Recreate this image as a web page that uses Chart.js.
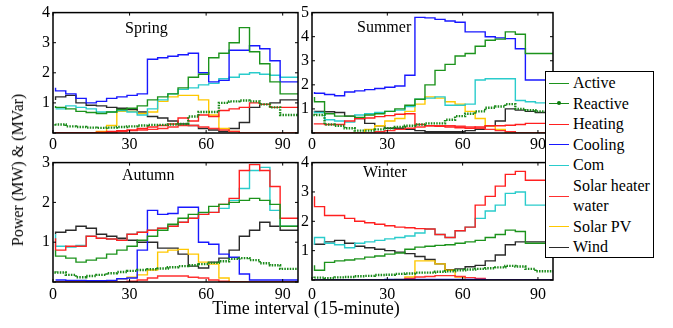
<!DOCTYPE html>
<html>
<head>
<meta charset="utf-8">
<title>Seasonal power profiles</title>
<script src="https://cdn.jsdelivr.net/npm/chart.js@4.4.0/dist/chart.umd.min.js"></script>
<style>
  body { margin: 0; background: #fff; }
  #fig { position: relative; width: 673px; height: 328px; overflow: hidden;
         font-family: "Liberation Serif", "Times New Roman", serif; color: #000; }
  #fig canvas { position: absolute; }
  .texto { position: absolute; font-size: 16px; line-height: 18px; white-space: nowrap; }
  #titulo-y { left: 18px; top: 170px; transform: translate(-50%, -50%) rotate(-90deg); }
  #titulo-x { left: 306px; top: 308px; transform: translate(-50%, -50%); font-size: 18px; }
  #leyenda { position: absolute; left: 545px; top: 71px; width: 107px; height: 184px;
             border: 1px solid #000; background: #fff; z-index: 5; font-size: 16px; padding-top: 1px; box-sizing: content-box; }
  .fila { display: flex; align-items: center; height: 20.5px; line-height: 20.5px; white-space: nowrap; }
  .fila.doble { height: 41px; line-height: 20px; }
  .muestra { position: relative; display: block; flex: 0 0 20px; height: 0; border-top: 1.5px solid; margin: 0 4px 0 3px; }
  .muestra.punto::after { content: ""; position: absolute; left: 8px; top: -2.8px; width: 4px; height: 4px;
                          background: #0a7a0a; border-radius: 2px; }
</style>
</head>
<body>
<div id="fig">
  <canvas id="c-spring" width="300" height="152" style="left:0;top:0"></canvas>
  <canvas id="c-summer" width="265" height="152" style="left:290px;top:0"></canvas>
  <canvas id="c-autumn" width="300" height="152" style="left:0;top:150px"></canvas>
  <canvas id="c-winter" width="265" height="152" style="left:290px;top:150px"></canvas>

  <div class="texto" style="left:125px;top:19px">Spring</div>
  <div class="texto" style="left:357px;top:18px">Summer</div>
  <div class="texto" style="left:122px;top:166px">Autumn</div>
  <div class="texto" style="left:363px;top:163px">Winter</div>

  <div class="texto" id="titulo-y">Power (MW) &amp; (MVar)</div>
  <div class="texto" id="titulo-x">Time interval (15-minute)</div>

  <div id="leyenda"></div>
</div>
<script>
(function () {
    "use strict";

    // Hourly steps: each value holds for four 15-minute intervals
    var HORA_INICIO = [1, 5, 9, 13, 17, 21, 25, 29, 33, 37, 41, 45, 49, 53, 57, 61, 65, 69, 73, 77, 81, 85, 89, 93];
    var FIN_DIA = 96;
    var X_TICKS = [0, 30, 60, 90];
    var SERIES = ["Active", "Reactive", "Heating", "Cooling", "Com", "Solar heater water", "Solar PV", "Wind"];

    var springActive   = [0.9, 0.85, 0.8, 0.72, 0.68, 0.65, 0.7, 0.78, 0.82, 0.9, 1.1, 1.2, 1.3, 1.5, 1.85, 1.95, 2.5, 2.65, 3.0, 3.5, 2.7, 2.3, 1.7, 1.3];
    var springReactive = [0.3, 0.28, 0.22, 0.2, 0.18, 0.17, 0.18, 0.2, 0.22, 0.25, 0.27, 0.27, 0.28, 0.3, 0.55, 0.7, 0.7, 1.0, 1.05, 1.08, 1.05, 0.95, 0.85, 0.6];
    var springHeating  = [0, 0, 0, 0, 0, 0.03, 0.05, 0.08, 0.1, 0.15, 0.2, 0.25, 0.3, 0.5, 0.4, 0.6, 0.55, 0.75, 0.8, 0.85, 1.0, 0.95, 0.85, 0.85];
    var springCooling  = [1.5, 1.4, 1.3, 1.15, 1.0, 1.05, 1.15, 1.2, 1.25, 1.3, 2.45, 2.5, 2.55, 2.6, 2.65, 2.0, 1.7, 1.75, 2.75, 2.75, 2.9, 2.8, 2.4, 1.7];
    var springCom      = [0.8, 0.8, 0.9, 0.85, 0.8, 0.7, 0.7, 0.75, 0.7, 0.6, 0.8, 1.1, 1.3, 1.45, 1.5, 1.6, 1.65, 1.8, 1.85, 1.95, 2.0, 1.95, 1.92, 1.85];
    var springShw      = [0, 0, 0, 0, 0, 0, 0, 0.05, 0.08, 0.1, 0.12, 0.15, 0.2, 0.25, 0.25, 0.2, 0.15, 0.1, 0.05, 0, 0, 0, 0, 0];
    var springPv       = [0, 0, 0, 0, 0, 0.05, 0.25, 0.72, 0.72, 0.65, 0.7, 1.05, 1.2, 1.25, 1.25, 1.1, 0.6, 0.15, 0.05, 0, 0, 0, 0, 0];
    var springWind     = [1.1, 1.2, 1.25, 1.0, 0.92, 0.9, 0.85, 0.82, 0.78, 0.7, 0.55, 0.5, 0.4, 0.3, 0.25, 0.15, 0.1, 0.05, 0.15, 0.35, 0.85, 0.95, 1.0, 1.1];

    var summerActive   = [1.5, 1.3, 0.8, 0.7, 0.7, 0.65, 0.75, 0.8, 0.9, 1.0, 1.15, 1.4, 2.0, 2.6, 2.85, 3.2, 3.3, 3.6, 3.85, 3.9, 4.2, 4.1, 3.3, 3.3];
    var summerReactive = [0.8, 0.75, 0.35, 0.3, 0.2, 0.1, 0.1, 0.15, 0.2, 0.25, 0.3, 0.35, 0.4, 0.4, 0.55, 0.7, 0.8, 0.9, 1.05, 1.1, 1.2, 1.0, 0.95, 0.9];
    var summerHeating  = [0.4, 0.38, 0.35, 0.35, 0.5, 0.6, 0.62, 0.68, 0.72, 0.78, 0.8, 0.35, 0.3, 0.28, 0.25, 0.22, 0.2, 0.25, 0.3, 0.3, 0.32, 0.35, 0.4, 0.4];
    var summerCooling  = [1.7, 1.65, 1.6, 1.55, 1.7, 1.75, 1.8, 1.85, 1.9, 1.95, 2.4, 4.8, 4.78, 4.72, 4.65, 4.6, 4.2, 4.2, 4.0, 3.95, 3.92, 3.5, 2.2, 2.2];
    var summerCom      = [0.9, 0.85, 0.55, 0.5, 0.45, 0.75, 0.8, 0.85, 0.9, 0.95, 1.1, 1.4, 1.45, 1.5, 1.15, 1.15, 1.2, 2.2, 2.25, 2.25, 2.25, 1.35, 1.3, 1.25];
    var summerShw      = [0, 0, 0, 0, 0, 0, 0, 0.05, 0.1, 0.15, 0.2, 0.25, 0.3, 0.3, 0.3, 0.28, 0.25, 0.2, 0.15, 0.1, 0.05, 0, 0, 0];
    var summerPv       = [0, 0, 0, 0, 0, 0, 0.15, 0.3, 0.5, 0.6, 0.9, 1.2, 1.5, 1.45, 1.3, 1.2, 0.9, 0.6, 0.3, 0.15, 0, 0, 0, 0];
    var summerWind     = [0.85, 0.9, 0.88, 0.85, 0.7, 0.6, 0.4, 0.3, 0.2, 0.2, 0.15, 0.1, 0.05, 0.05, 0.05, 0.05, 0.1, 0.15, 0.3, 0.5, 1.0, 0.95, 0.9, 0.85];

    var autumnActive   = [0.8, 0.65, 0.6, 0.5, 0.55, 0.6, 0.7, 0.8, 0.9, 1.05, 1.15, 1.3, 1.45, 1.6, 1.7, 1.75, 1.9, 1.95, 2.0, 2.05, 2.1, 2.05, 1.95, 1.4];
    var autumnReactive = [0.27, 0.24, 0.18, 0.12, 0.15, 0.18, 0.22, 0.25, 0.28, 0.3, 0.32, 0.34, 0.37, 0.4, 0.42, 0.45, 0.48, 0.52, 0.58, 0.6, 0.55, 0.47, 0.42, 0.33];
    var autumnHeating  = [1.1, 0.8, 0.9, 0.9, 1.15, 1.1, 1.08, 1.05, 1.2, 1.25, 1.3, 1.35, 1.4, 1.5, 1.6, 1.7, 1.75, 1.95, 2.1, 2.8, 2.95, 2.8, 2.4, 1.6];
    var autumnCooling  = [0.05, 0.05, 0.04, 0.04, 0.03, 0.03, 0.04, 0.08, 0.1, 0.8, 1.8, 1.7, 1.72, 1.88, 1.88, 1.0, 0.95, 0.7, 0.62, 0.2, 0.05, 0.05, 0.05, 0.05];
    var autumnCom      = [1.2, 0.9, 0.88, 0.92, 1.15, 1.1, 1.08, 1.05, 1.2, 1.25, 1.3, 1.35, 1.4, 1.5, 1.6, 1.7, 1.75, 1.85, 2.05, 2.35, 2.8, 2.88, 1.8, 1.4];
    var autumnShw      = [0, 0, 0, 0, 0, 0, 0, 0, 0.02, 0.05, 0.1, 0.15, 0.15, 0.15, 0.12, 0.1, 0.05, 0.02, 0, 0, 0, 0, 0, 0];
    var autumnPv       = [0, 0, 0, 0, 0, 0, 0.03, 0.08, 0.12, 0.18, 0.3, 0.75, 0.8, 0.82, 0.7, 0.5, 0.45, 0.1, 0, 0, 0, 0, 0, 0];
    var autumnWind     = [1.2, 1.25, 1.3, 1.4, 1.35, 1.2, 1.15, 1.1, 1.05, 1.0, 1.0, 0.85, 0.85, 0.7, 0.4, 0.35, 0.5, 0.6, 0.8, 1.15, 1.3, 1.5, 1.4, 1.3];

    var winterActive   = [0.5, 0.33, 0.6, 0.65, 0.68, 0.72, 0.78, 0.82, 0.88, 0.92, 1.05, 1.12, 1.15, 1.18, 1.2, 1.25, 1.3, 1.35, 1.45, 1.55, 1.7, 1.65, 1.25, 1.25];
    var winterReactive = [0.07, 0.08, 0.06, 0.09, 0.1, 0.13, 0.14, 0.17, 0.18, 0.21, 0.22, 0.25, 0.25, 0.28, 0.3, 0.33, 0.36, 0.38, 0.4, 0.43, 0.48, 0.46, 0.38, 0.3];
    var winterHeating  = [2.85, 2.5, 2.2, 2.2, 2.1, 2.0, 1.95, 1.9, 1.85, 1.8, 1.78, 1.75, 1.74, 1.55, 1.45, 1.68, 1.8, 2.55, 2.85, 3.2, 3.6, 3.7, 3.4, 3.4];
    var winterCooling  = [0, 0, 0, 0, 0, 0, 0, 0, 0.02, 0.02, 0.02, 0.02, 0.02, 0.02, 0.02, 0.02, 0.02, 0.02, 0, 0, 0, 0, 0, 0];
    var winterCom      = [1.2, 1.45, 1.25, 1.2, 1.1, 1.25, 1.3, 1.35, 1.4, 1.45, 1.5, 1.6, 1.74, 1.55, 1.45, 1.68, 1.8, 2.1, 2.35, 2.55, 2.95, 3.0, 2.55, 2.55];
    var winterShw      = [0, 0, 0, 0, 0, 0, 0, 0, 0, 0, 0.05, 0.1, 0.12, 0.15, 0.15, 0.12, 0.08, 0.05, 0, 0, 0, 0, 0, 0];
    var winterPv       = [0, 0, 0, 0, 0, 0, 0, 0, 0, 0.02, 0.1, 0.65, 0.65, 0.55, 0.33, 0.1, 0, 0, 0, 0, 0, 0, 0, 0];
    var winterWind     = [1.2, 1.22, 1.3, 1.35, 1.25, 1.15, 1.1, 1.05, 1.0, 0.95, 0.9, 0.8, 0.7, 0.55, 0.35, 0.38, 0.45, 0.5, 0.65, 0.85, 1.2, 1.3, 1.3, 1.3];

    var FUENTE = "'Liberation Serif', 'Times New Roman', serif";

    var ESTILOS = [
        { color: "#1c931c", ancho: 1.4 },
        { color: "#1a8a1a", ancho: 2.4, guiones: [1.5, 1.2] },
        { color: "#ff2020", ancho: 1.4 },
        { color: "#1818ff", ancho: 1.4 },
        { color: "#2acccc", ancho: 1.4 },
        { color: "#ff3030", ancho: 1.4 },
        { color: "#ffc800", ancho: 1.4 },
        { color: "#2a2a2a", ancho: 1.4 }
    ];

    function puntos(valores) {
        var p = HORA_INICIO.map(function (x, i) { return { x: x, y: valores[i] }; });
        p.push({ x: FIN_DIA, y: valores[valores.length - 1] });
        return p;
    }

    /** Box around the plot area plus MATLAB-like inward ticks. */
    var marco = {
        id: "marco",
        afterDatasetsDraw: function (chart) {
            var a = chart.chartArea, ctx = chart.ctx;
            var sx = chart.scales.x, sy = chart.scales.y;
            ctx.save();
            ctx.strokeStyle = "#000";
            ctx.lineWidth = 1.5;
            ctx.strokeRect(a.left, a.top, a.right - a.left, a.bottom - a.top);
            ctx.lineWidth = 1;
            ctx.beginPath();
            sx.ticks.forEach(function (t) {
                var px = sx.getPixelForValue(t.value);
                ctx.moveTo(px, a.bottom); ctx.lineTo(px, a.bottom - 3);
                ctx.moveTo(px, a.top); ctx.lineTo(px, a.top + 3);
            });
            sy.ticks.forEach(function (t) {
                var py = sy.getPixelForValue(t.value);
                ctx.moveTo(a.left, py); ctx.lineTo(a.left + 3, py);
                ctx.moveTo(a.right, py); ctx.lineTo(a.right - 3, py);
            });
            ctx.stroke();
            ctx.restore();
        }
    };

    function crearPanel(idCanvas, series, yMax, caja) {
        var canvas = document.getElementById(idCanvas);
        var datasets = series.map(function (valores, i) {
            var e = ESTILOS[i];
            return {
                label: SERIES[i],
                data: puntos(valores),
                stepped: "after",
                borderColor: e.color,
                borderWidth: e.ancho,
                borderDash: e.guiones || [],
                pointRadius: 0,
                fill: false
            };
        });
        var fuenteTicks = { family: FUENTE, size: 16 };
        new Chart(canvas.getContext("2d"), {
            type: "line",
            data: { datasets: datasets },
            options: {
                responsive: false,
                animation: false,
                events: [],
                layout: { padding: { top: caja.arriba, right: caja.derecha, left: 0, bottom: 0 } },
                plugins: { legend: { display: false }, tooltip: { enabled: false } },
                scales: {
                    x: {
                        type: "linear", min: 0, max: FIN_DIA,
                        afterBuildTicks: function (s) { s.ticks = X_TICKS.map(function (v) { return { value: v }; }); },
                        afterFit: function (s) { s.height = caja.altoX; },
                        grid: { display: false, drawTicks: false },
                        border: { display: false },
                        ticks: { font: fuenteTicks, color: "#000", padding: caja.padX, maxRotation: 0, autoSkip: false }
                    },
                    y: {
                        min: 0, max: yMax,
                        afterBuildTicks: function (s) {
                            var t = [];
                            for (var v = 0; v <= yMax; v++) { t.push({ value: v }); }
                            s.ticks = t;
                        },
                        afterFit: function (s) { s.width = caja.anchoY; },
                        grid: { display: false, drawTicks: false },
                        border: { display: false },
                        ticks: {
                            font: fuenteTicks, color: "#000", padding: 3,
                            callback: function (v) { return v === 0 ? "" : v; }
                        }
                    }
                }
            },
            plugins: [marco]
        });
    }

    function crearLeyenda() {
        var cont = document.getElementById("leyenda");
        SERIES.forEach(function (nombre, i) {
            var fila = document.createElement("div");
            fila.className = "fila" + (nombre === "Solar heater water" ? " doble" : "");
            var m = document.createElement("span");
            m.className = "muestra" + (i === 1 ? " punto" : "");
            m.style.borderTopColor = ESTILOS[i].color;
            var t = document.createElement("span");
            t.innerHTML = nombre === "Solar heater water" ? "Solar heater<br>water" : nombre;
            fila.appendChild(m);
            fila.appendChild(t);
            cont.appendChild(fila);
        });
    }

    crearPanel("c-spring",
        [springActive, springReactive, springHeating, springCooling, springCom, springShw, springPv, springWind],
        4, { arriba: 5, derecha: 2, anchoY: 53, altoX: 19, padX: 2 });
    crearPanel("c-summer",
        [summerActive, summerReactive, summerHeating, summerCooling, summerCom, summerShw, summerPv, summerWind],
        5, { arriba: 5, derecha: 2, anchoY: 22, altoX: 19, padX: 2 });
    crearPanel("c-autumn",
        [autumnActive, autumnReactive, autumnHeating, autumnCooling, autumnCom, autumnShw, autumnPv, autumnWind],
        3, { arriba: 7, derecha: 2, anchoY: 53, altoX: 20, padX: 3 });
    crearPanel("c-winter",
        [winterActive, winterReactive, winterHeating, winterCooling, winterCom, winterShw, winterPv, winterWind],
        4, { arriba: 5, derecha: 2, anchoY: 22, altoX: 22, padX: 5 });
    crearLeyenda();
})();
</script>
</body>
</html>
